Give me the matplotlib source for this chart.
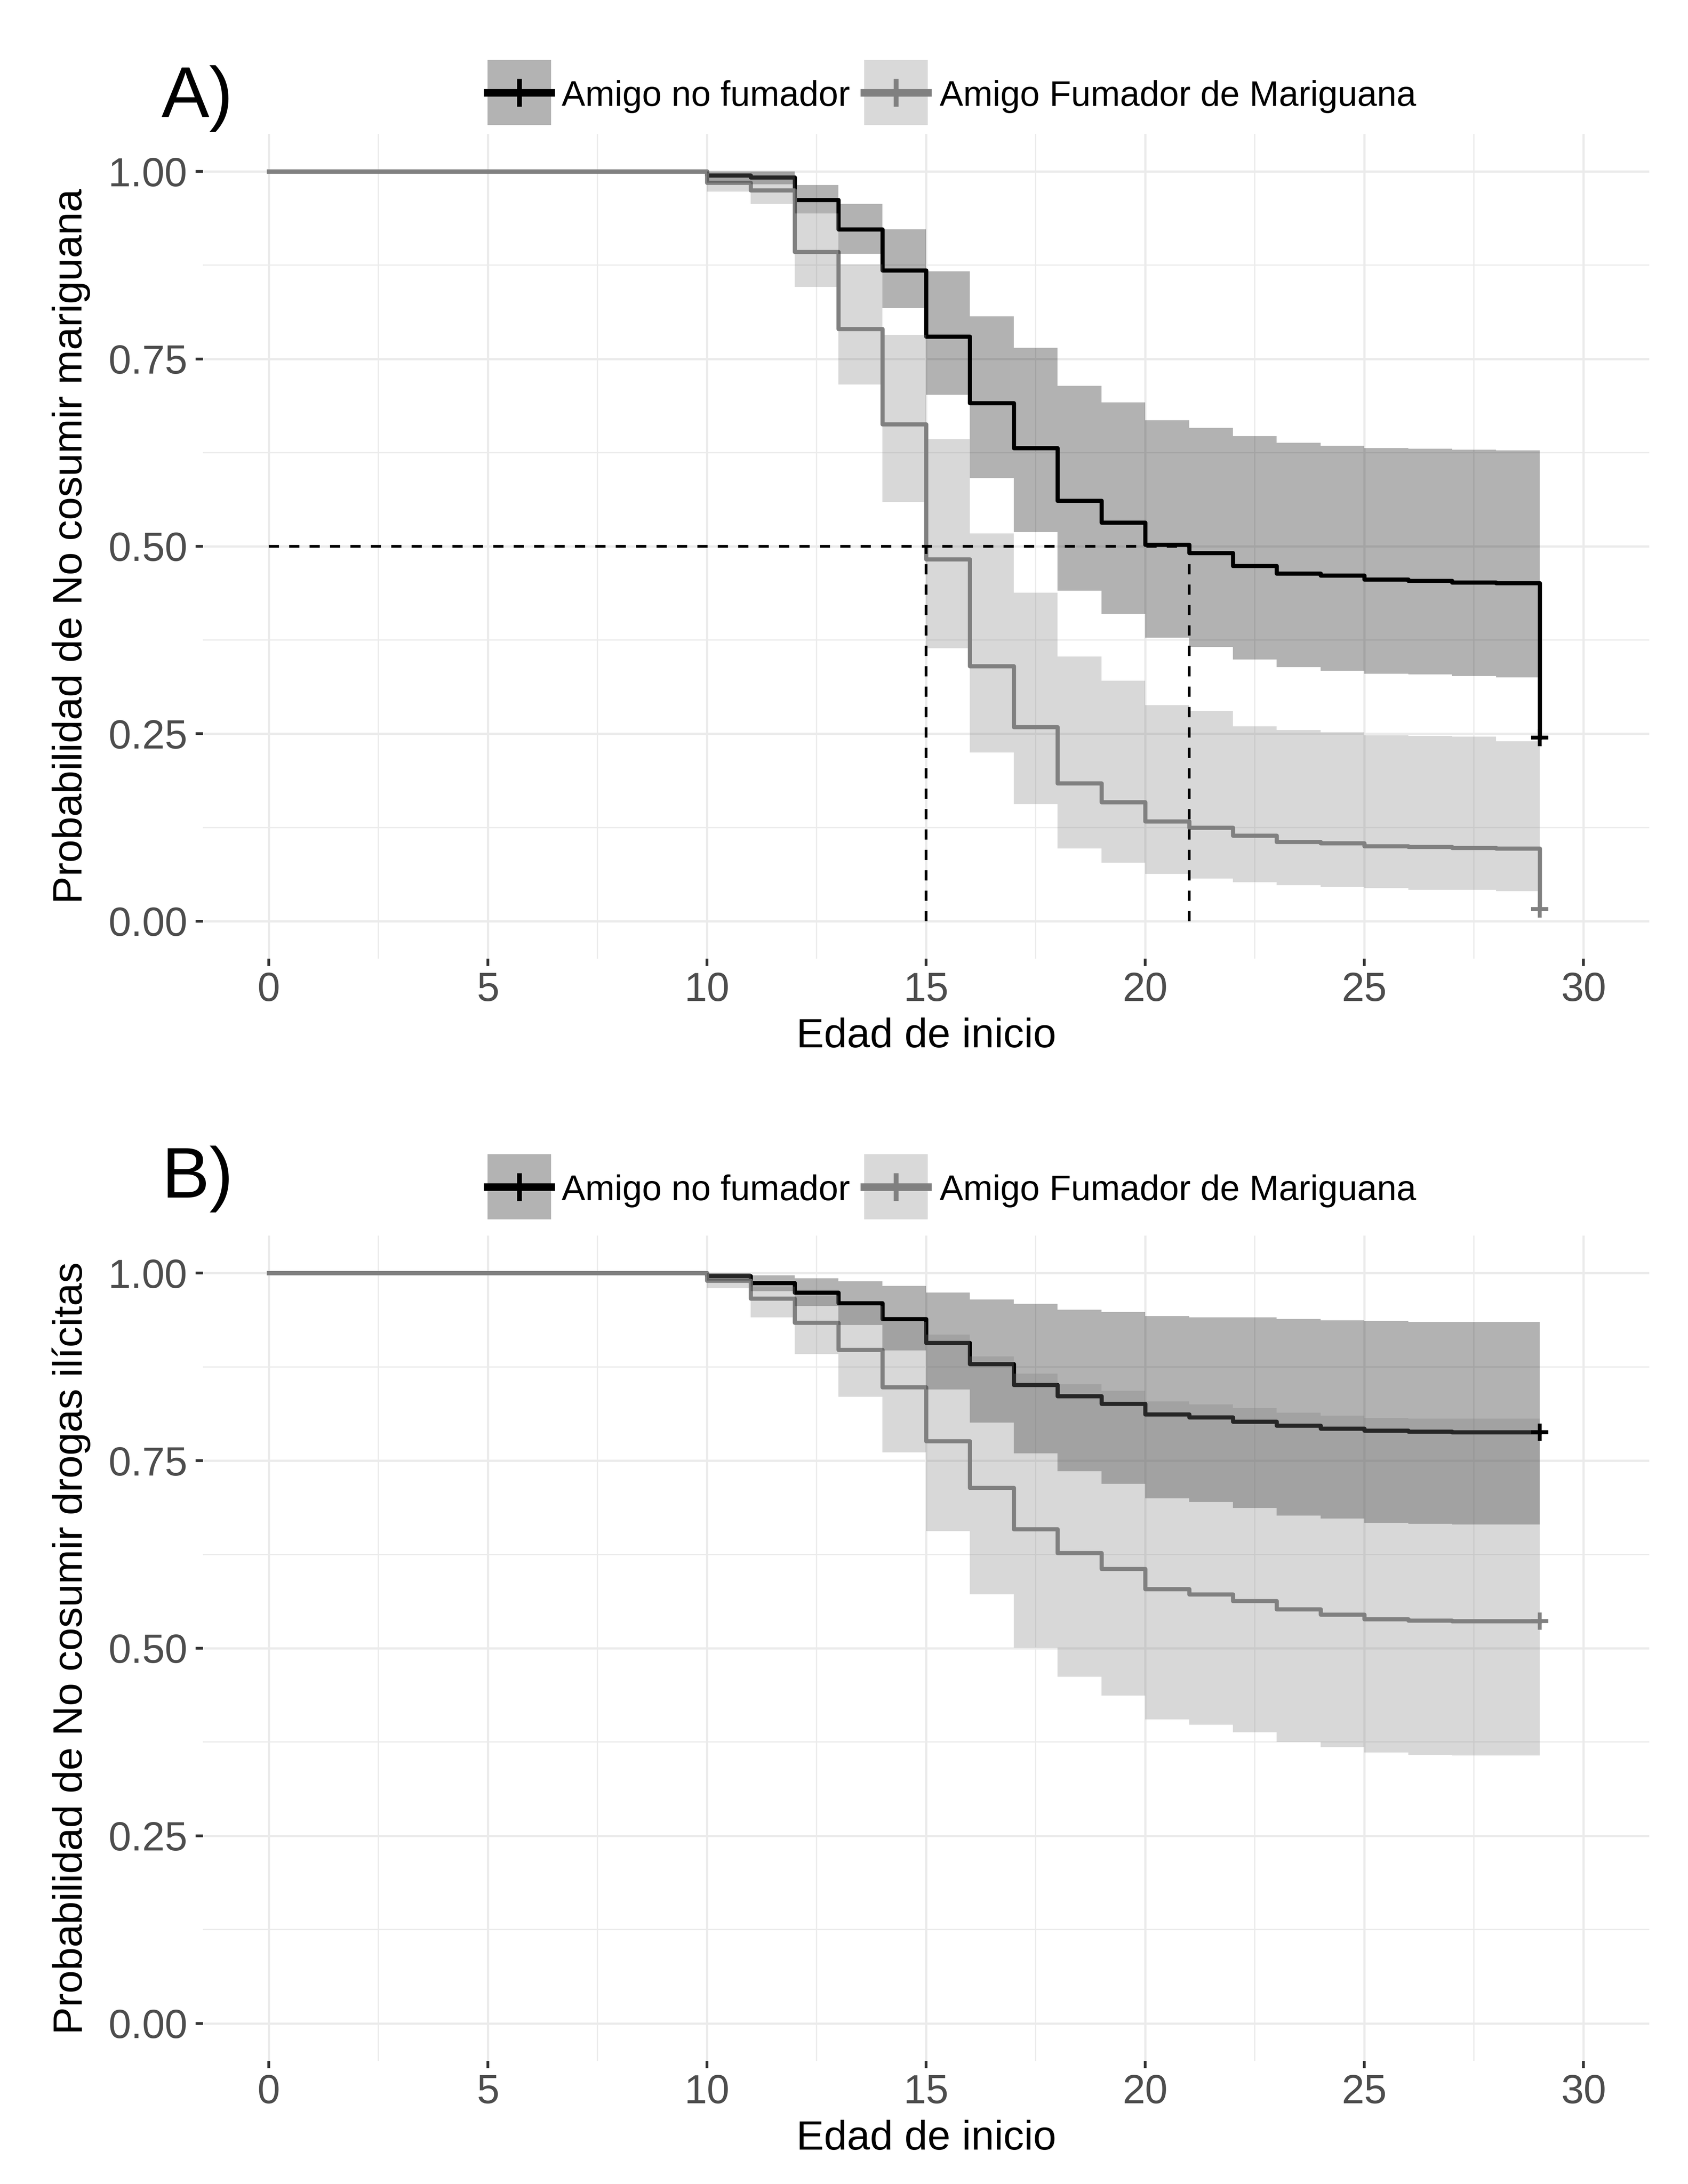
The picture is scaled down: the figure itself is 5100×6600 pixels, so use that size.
import matplotlib
matplotlib.use("Agg")
import matplotlib.pyplot as plt
from matplotlib.lines import Line2D
from matplotlib.patches import Rectangle

plt.rcParams['font.family'] = ['Liberation Sans', 'DejaVu Sans']

W, H = 5100, 6600  # pixel size of the output

# tiempos de cada escalon (edad)
tiempos = [0] + list(range(10, 30))

grupos = ["Amigo no fumador", "Amigo Fumador de Mariguana"]

# ---- Panel A: consumo de mariguana ----
a_nofum_surv = [1.0, 0.995, 0.992, 0.962, 0.923, 0.868, 0.780, 0.691, 0.631, 0.561, 0.532,
                0.502, 0.491, 0.474, 0.464, 0.461, 0.456, 0.454, 0.452, 0.451, 0.245]
a_nofum_sup = [1.0, 1.0, 1.0, 0.982, 0.957, 0.923, 0.867, 0.807, 0.765, 0.714, 0.692,
               0.668, 0.658, 0.647, 0.638, 0.634, 0.631, 0.630, 0.629, 0.628]
a_nofum_inf = [1.0, 0.985, 0.983, 0.944, 0.890, 0.818, 0.702, 0.591, 0.519, 0.441, 0.410,
               0.378, 0.366, 0.349, 0.339, 0.334, 0.330, 0.329, 0.327, 0.325]
a_fum_surv = [1.0, 0.985, 0.975, 0.893, 0.790, 0.663, 0.483, 0.340, 0.259, 0.184, 0.159,
              0.133, 0.125, 0.114, 0.106, 0.104, 0.100, 0.099, 0.098, 0.097, 0.016]
a_fum_sup = [1.0, 0.998, 0.999, 0.944, 0.876, 0.782, 0.643, 0.517, 0.438, 0.353, 0.321,
             0.288, 0.280, 0.260, 0.255, 0.252, 0.248, 0.247, 0.246, 0.240]
a_fum_inf = [1.0, 0.973, 0.957, 0.846, 0.716, 0.559, 0.364, 0.225, 0.156, 0.097, 0.078,
             0.063, 0.057, 0.052, 0.048, 0.046, 0.044, 0.042, 0.042, 0.040]
a_medianas = [15, 21]

# ---- Panel B: consumo de drogas ilicitas ----
b_nofum_surv = [1.0, 0.996, 0.987, 0.974, 0.960, 0.939, 0.907, 0.879, 0.851, 0.836, 0.826,
                0.812, 0.808, 0.802, 0.797, 0.793, 0.790, 0.789, 0.788, 0.788, 0.788]
b_nofum_sup = [1.0, 1.0, 0.997, 0.993, 0.989, 0.983, 0.974, 0.965, 0.959, 0.951, 0.948,
               0.943, 0.941, 0.941, 0.939, 0.937, 0.936, 0.935, 0.935, 0.935]
b_nofum_inf = [1.0, 0.990, 0.976, 0.956, 0.931, 0.897, 0.845, 0.801, 0.760, 0.736, 0.719,
               0.700, 0.695, 0.687, 0.677, 0.673, 0.667, 0.666, 0.665, 0.665]
b_fum_surv = [1.0, 0.990, 0.966, 0.934, 0.898, 0.848, 0.776, 0.714, 0.659, 0.627, 0.606,
              0.579, 0.572, 0.563, 0.552, 0.545, 0.539, 0.537, 0.536, 0.536, 0.536]
b_fum_sup = [1.0, 1.0, 0.982, 0.970, 0.956, 0.935, 0.918, 0.889, 0.866, 0.852, 0.843,
             0.829, 0.825, 0.820, 0.814, 0.810, 0.807, 0.806, 0.806, 0.806]
b_fum_inf = [1.0, 0.980, 0.941, 0.892, 0.835, 0.761, 0.656, 0.572, 0.501, 0.462, 0.437,
             0.405, 0.398, 0.388, 0.375, 0.368, 0.361, 0.358, 0.357, 0.357]

x_ticks = [0, 5, 10, 15, 20, 25, 30]
y_ticks = [0.0, 0.25, 0.5, 0.75, 1.0]
y_labels = ["0.00", "0.25", "0.50", "0.75", "1.00"]

colores = ["#000000", "#808080"]
relleno_key = ["#B3B3B3", "#D9D9D9"]


def fx(x):
    return x / W


def fy(y):
    return 1 - y / H


def panel(ax, curvas):
    for i, (surv, sup, inf) in enumerate(curvas):
        ax.step(tiempos, surv, where='post', color=colores[i], lw=3.0, zorder=2)
        ax.plot(tiempos[-1], surv[-1], marker='+', ms=12.5, mew=2.8,
                color=colores[i], zorder=5)
    # las bandas van encima de las curvas, como en el original
    for i, (surv, sup, inf) in enumerate(curvas):
        ax.fill_between(tiempos, sup + [sup[-1]], inf + [inf[-1]], step='post',
                        color=colores[i], alpha=0.3, lw=0, zorder=3)
    ax.set_xlim(-1.5, 31.5)
    ax.set_ylim(-0.05, 1.05)
    ax.set_xticks(x_ticks)
    ax.set_xticks([2.5, 7.5, 12.5, 17.5, 22.5, 27.5], minor=True)
    ax.set_yticks(y_ticks)
    ax.set_yticklabels(y_labels)
    ax.set_yticks([0.125, 0.375, 0.625, 0.875], minor=True)
    ax.grid(which='major', color='#EBEBEB', lw=1.6)
    ax.grid(which='minor', color='#EBEBEB', lw=0.9)
    ax.set_axisbelow(True)
    for s in ax.spines.values():
        s.set_visible(False)
    ax.tick_params(which='major', length=5.3, width=2, color='#333333',
                   labelsize=29.5, labelcolor='#4D4D4D')
    ax.tick_params(axis='x', pad=4)
    ax.tick_params(axis='y', pad=6)
    ax.tick_params(which='minor', length=0)


def leyenda(fig, yc):
    keys_x = [1473, 2611]
    text_x = [1697, 2839]
    for i in range(2):
        fig.add_artist(Rectangle((fx(keys_x[i]), fy(yc + 98)), 192 / W, 197 / H,
                                 transform=fig.transFigure, fc=relleno_key[i], ec='none'))
        fig.add_artist(Line2D([fx(keys_x[i]), fx(keys_x[i] + 192)], [fy(yc), fy(yc)],
                              lw=5.5, color=colores[i], transform=fig.transFigure))
        fig.add_artist(Line2D([fx(keys_x[i] + 96)], [fy(yc)], marker='+', ms=20, mew=3.5,
                              color=colores[i], transform=fig.transFigure))
        fig.text(fx(text_x[i]), fy(yc + 40), grupos[i], fontsize=25.6, va='baseline')


fig = plt.figure(figsize=(17, 22), dpi=300)
fig.patch.set_facecolor('white')

# panel A
axA = fig.add_axes([fx(613), fy(2897), (4983 - 613) / W, (2897 - 405) / H])
panel(axA, [(a_nofum_surv, a_nofum_sup, a_nofum_inf),
            (a_fum_surv, a_fum_sup, a_fum_inf)])
axA.plot([0, max(a_medianas)], [0.5, 0.5], color='black', lw=2,
         linestyle=(0, (3.7, 3.7)), zorder=6)
for m in a_medianas:
    axA.plot([m, m], [0, 0.5], color='black', lw=2, linestyle=(0, (3.7, 3.7)), zorder=6)

# panel B
axB = fig.add_axes([fx(613), fy(6228), (4983 - 613) / W, (6228 - 3734) / H])
panel(axB, [(b_nofum_surv, b_nofum_sup, b_nofum_inf),
            (b_fum_surv, b_fum_sup, b_fum_inf)])

# titulos de ejes
fig.text(fx(2798), fy(3165), "Edad de inicio", fontsize=30, ha='center', va='baseline')
fig.text(fx(2798), fy(6496), "Edad de inicio", fontsize=30, ha='center', va='baseline')
fig.text(fx(215), fy((405 + 2897) / 2), "Probabilidad de No cosumir mariguana",
         fontsize=30, rotation=90, ha='center', va='center')
fig.text(fx(215), fy((3734 + 6228) / 2), "Probabilidad de No cosumir drogas ilícitas",
         fontsize=30, rotation=90, ha='center', va='center')

# etiquetas de panel
fig.text(fx(488), fy(354), "A)", fontsize=52, va='baseline')
fig.text(fx(488), fy(3619), "B)", fontsize=52, va='baseline')

leyenda(fig, 280)
leyenda(fig, 3587)

fig.savefig("out.png", dpi=300, facecolor='white')
